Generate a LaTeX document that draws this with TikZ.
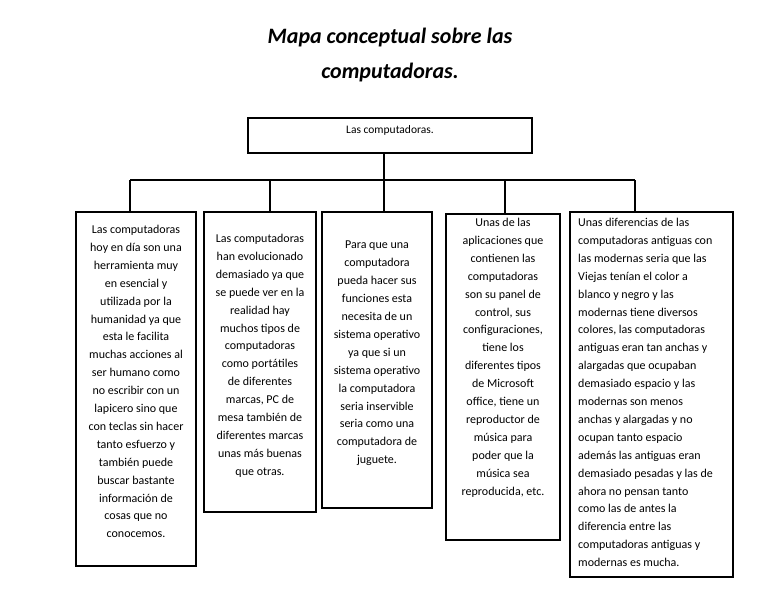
\documentclass[tikz,border=0pt]{standalone}
\usepackage{fontspec}
\setmainfont{Carlito}
\begin{document}
\begin{tikzpicture}[x=1pt,y=-1pt,
  frame/.style={draw,line width=1.2pt},
  txt/.style={align=center,anchor=north,inner sep=0pt,font=\fontsize{12}{17.9}\selectfont},
  con/.style={line width=2.6pt}]
\useasboundingbox (0,0) rectangle (768,594);
\node[font=\fontsize{22}{35}\selectfont\bfseries\itshape,align=center] (title) at (390,55) {Mapa conceptual sobre las\\computadoras.};
\draw[frame] (248,118) rectangle (532,153);
\node[font=\fontsize{11.5}{14}\selectfont] (top) at (390,130) {Las computadoras.};
\coordinate (topb) at (384,153);
\draw[frame] (76,212) rectangle (196,566);
\draw[frame] (204,212) rectangle (316,512);
\draw[frame] (322,212) rectangle (432,508);
\draw[frame] (446,214) rectangle (560,540);
\draw[frame] (570,212) rectangle (733,577);
\node[txt] (b1) at (136,225) {Las computadoras\\hoy en día son una\\herramienta muy\\en esencial y\\utilizada por la\\humanidad ya que\\esta le facilita\\muchas acciones al\\ser humano como\\no escribir con un\\lapicero sino que\\con teclas sin hacer\\tanto esfuerzo y\\también puede\\buscar bastante\\información de\\cosas que no\\conocemos.};
\node[txt] (b2) at (260,234) {Las computadoras\\han evolucionado\\demasiado ya que\\se puede ver en la\\realidad hay\\muchos tipos de\\computadoras\\como portátiles\\de diferentes\\marcas, PC de\\mesa también de\\diferentes marcas\\unas más buenas\\que otras.};
\node[txt] (b3) at (377,241) {Para que una\\computadora\\pueda hacer sus\\funciones esta\\necesita de un\\sistema operativo\\ya que si un\\sistema operativo\\la computadora\\seria inservible\\seria como una\\computadora de\\juguete.};
\node[txt] (b4) at (503,218) {Unas de las\\aplicaciones que\\contienen las\\computadoras\\son su panel de\\control, sus\\configuraciones,\\tiene los\\diferentes tipos\\de Microsoft\\office, tiene un\\reproductor de\\música para\\poder que la\\música sea\\reproducida, etc.};
\node[txt,align=left,anchor=north west] (b5) at (578,218) {Unas diferencias de las\\computadoras antiguas con\\las modernas seria que las\\Viejas tenían el color a\\blanco y negro y las\\modernas tiene diversos\\colores, las computadoras\\antiguas eran tan anchas y\\alargadas que ocupaban\\demasiado espacio y las\\modernas son menos\\anchas y alargadas y no\\ocupan tanto espacio\\además las antiguas eran\\demasiado pesadas y las de\\ahora no pensan tanto\\como las de antes la\\diferencia entre las\\computadoras antiguas y\\modernas es mucha.};
\coordinate (l) at (130,180);
\coordinate (r) at (635,180);
\coordinate (m) at (384,180);
\coordinate (c2) at (270,180);
\coordinate (c4) at (505,180);
\draw[con] (topb) -- (m);
\draw[con] (l) -- (r);
\draw[con] (l) -- (130,212);
\draw[con] (c2) -- (270,212);
\draw[con] (m) -- (384,212);
\draw[con] (c4) -- (505,214);
\draw[con] (r) -- (635,212);
\end{tikzpicture}
\end{document}
